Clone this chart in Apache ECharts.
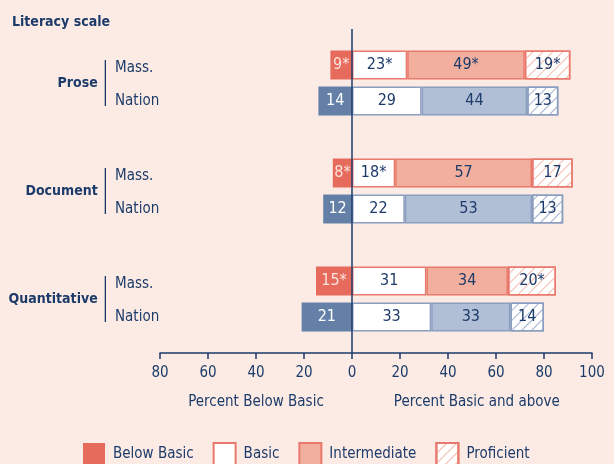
<!DOCTYPE html>
<html>
<head>
<meta charset="utf-8">
<script src="https://cdn.jsdelivr.net/npm/echarts@6/dist/echarts.min.js"></script>
<style>
  html, body { margin: 0; padding: 0; background: #fbebe4; }
  #chart { width: 614px; height: 464px; }
</style>
</head>
<body>
<div id="chart"></div>
<script>
// literacy levels, Massachusetts vs nation, per scale
const groups = ['Prose', 'Document', 'Quantitative'];
const places = ['Mass.', 'Nation'];
// order: Prose Mass, Prose Nation, Document Mass, Document Nation, Quant Mass, Quant Nation
const belowBasic = [9, 14, 8, 12, 15, 21];
const basic = [23, 29, 18, 22, 31, 33];
const intermediate = [49, 44, 57, 53, 34, 33];
const proficient = [19, 13, 17, 13, 20, 14];
// asterisk = significantly different from nation
const belowBasicSig = [1, 0, 1, 0, 1, 0];
const basicSig = [1, 0, 1, 0, 0, 0];
const intermediateSig = [1, 0, 0, 0, 0, 0];
const proficientSig = [1, 0, 0, 0, 1, 0];
const xTicks = [-80, -60, -40, -20, 0, 20, 40, 60, 80, 100];

const NAVY = '#1d3b6a';
const FONT = "'DejaVu Sans Condensed', 'Liberation Sans Narrow', sans-serif";

const styles = {
  'Mass.': { below: '#e76b5c', mid: '#f2af9d', border: '#e8796c', hatch: '#f4b8ab', belowText: '#fde3dd' },
  'Nation': { below: '#6480a7', mid: '#b1bfd6', border: '#8b9ec0', hatch: '#a3b3d0', belowText: '#ffffff' }
};

// rows on the category axis: a blank spacer before each group, and one at the end
const rowKeys = [];
const rowIndex = [];
groups.forEach((g, gi) => {
  rowKeys.push('sp' + gi); rowIndex.push(-1);
  places.forEach((p, pi) => { rowKeys.push(g + '|' + p); rowIndex.push(gi * 2 + pi); });
});
rowKeys.push('spEnd'); rowIndex.push(-1);

const groupKeys = ['g0'];
groups.forEach((g, gi) => { groupKeys.push(g); groupKeys.push('g' + (gi + 1)); });

function hatch(color) {
  return { symbol: 'rect', symbolSize: 1, dashArrayX: [1, 0], dashArrayY: [1, 6], rotation: -Math.PI / 4, color: color };
}

function build(kind, values, sig) {
  return rowIndex.map(i => {
    if (i < 0) return '-';
    const st = styles[places[i % 2]];
    const v = kind === 'below' ? -values[i] : values[i];
    const itemStyle = {};
    if (kind === 'below') { itemStyle.color = st.below; itemStyle.borderWidth = 0; }
    if (kind === 'basic') { itemStyle.color = '#ffffff'; itemStyle.borderColor = st.border; }
    if (kind === 'mid') { itemStyle.color = st.mid; itemStyle.borderColor = st.border; }
    if (kind === 'prof') { itemStyle.color = '#ffffff'; itemStyle.borderColor = st.border; itemStyle.decal = hatch(st.hatch); }
    return {
      value: v,
      itemStyle: itemStyle,
      label: {
        formatter: values[i] + (sig[i] ? '*' : ''),
        color: kind === 'below' ? st.belowText : NAVY
      }
    };
  });
}

const labelBase = { show: true, position: 'inside', fontFamily: FONT, fontSize: 16, color: NAVY };

const chart = echarts.init(document.getElementById('chart'));
chart.setOption({
  backgroundColor: '#fbebe4',
  textStyle: { fontFamily: FONT },
  title: {
    text: 'Literacy scale', left: 12, top: 15, padding: 0,
    textStyle: { fontFamily: FONT, fontSize: 14, fontWeight: 'bold', color: NAVY }
  },
  legend: {
    left: 83, top: 442, padding: 0, itemWidth: 22, itemHeight: 22, itemGap: 19, icon: 'rect',
    textStyle: { fontFamily: FONT, fontSize: 15, color: NAVY, padding: [0, 0, 0, 3] },
    data: ['Below Basic', 'Basic', 'Intermediate', 'Proficient']
  },
  grid: { left: 160, right: 22, top: 29, bottom: 111, containLabel: false, outerBoundsMode: 'none' },
  xAxis: {
    type: 'value', min: xTicks[0], max: xTicks[xTicks.length - 1], interval: 20,
    axisLine: { show: true, lineStyle: { color: NAVY, width: 1.5 } },
    axisTick: { show: true, length: 6, lineStyle: { color: NAVY, width: 1.5 } },
    axisLabel: { formatter: v => Math.abs(v), fontFamily: FONT, fontSize: 15, color: NAVY, margin: 13 },
    splitLine: { show: false }
  },
  yAxis: [{
    type: 'category', inverse: true, boundaryGap: false, data: rowKeys,
    axisLine: { show: false, onZero: false }, axisTick: { show: false },
    axisLabel: {
      align: 'left', margin: 45, fontFamily: FONT, fontSize: 15, color: NAVY, interval: 0,
      formatter: v => {
        if (v.indexOf('|') < 0) return '';
        const p = v.split('|')[1];
        return p === places[0] ? '{m|' + p + '}' : p;
      },
      rich: { m: { fontFamily: FONT, fontSize: 15, color: NAVY, padding: [7, 0, 0, 0] } }
    }
  }, {
    type: 'category', inverse: true, boundaryGap: false, data: groupKeys, position: 'left',
    axisLine: { show: false, onZero: false }, axisTick: { show: false },
    axisLabel: {
      margin: 54, interval: 0, align: 'right',
      formatter: v => groups.indexOf(v) >= 0 ? '{n|' + v + '}{gap|}{sep|}' : '',
      rich: {
        n: { fontFamily: FONT, fontSize: 14, fontWeight: 'bold', color: NAVY },
        gap: { width: 7, height: 10 },
        sep: { width: 1.3, height: 46, backgroundColor: NAVY }
      }
    }
  }],
  series: [{
    name: 'Below Basic', type: 'bar', stack: 'all', barWidth: 29,
    itemStyle: { color: '#e76b5c' }, label: labelBase,
    data: build('below', belowBasic, belowBasicSig),
    markLine: {
      silent: true, symbol: 'none', label: { show: false },
      lineStyle: { color: NAVY, width: 1.5, type: 'solid' },
      data: [{ xAxis: 0 }]
    }
  }, {
    name: 'Basic', type: 'bar', stack: 'all', barWidth: 29,
    itemStyle: { color: '#ffffff', borderColor: '#e8796c', borderWidth: 1.5 }, label: labelBase,
    data: build('basic', basic, basicSig)
  }, {
    name: 'Intermediate', type: 'bar', stack: 'all', barWidth: 29,
    itemStyle: { color: '#f2af9d', borderColor: '#e8796c', borderWidth: 1.5 }, label: labelBase,
    data: build('mid', intermediate, intermediateSig)
  }, {
    name: 'Proficient', type: 'bar', stack: 'all', barWidth: 29,
    itemStyle: { color: '#ffffff', borderColor: '#e8796c', borderWidth: 1.5, decal: hatch('#f4b8ab') },
    label: labelBase,
    data: build('prof', proficient, proficientSig)
  }]
});

// axis titles under each half of the x axis
const axisY = chart.convertToPixel({ yAxisIndex: 0 }, rowKeys[rowKeys.length - 1]);
const nameY = axisY + 49;
chart.setOption({
  graphic: [
    { type: 'text', x: chart.convertToPixel({ xAxisIndex: 0 }, -40), y: nameY,
      style: { text: 'Percent Below Basic', fill: NAVY, font: '15px ' + FONT, align: 'center', verticalAlign: 'middle' } },
    { type: 'text', x: chart.convertToPixel({ xAxisIndex: 0 }, 52), y: nameY,
      style: { text: 'Percent Basic and above', fill: NAVY, font: '15px ' + FONT, align: 'center', verticalAlign: 'middle' } }
  ]
});
</script>
</body>
</html>
